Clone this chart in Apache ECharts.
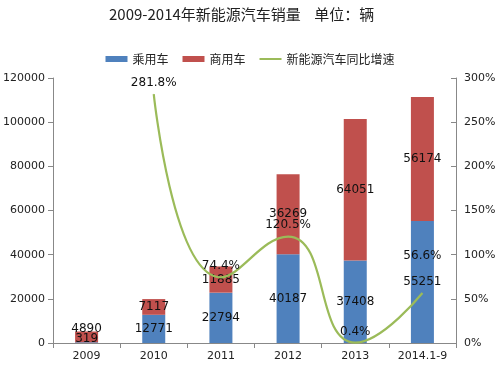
<!DOCTYPE html>
<html><head><meta charset="utf-8">
<script src="https://cdn.jsdelivr.net/npm/echarts@6/dist/echarts.min.js"></script>
<style>html,body{margin:0;padding:0;background:#fff}#c{width:500px;height:369px}</style>
</head><body><div id="c"></div>
<script>
const categories = ['2009','2010','2011','2012','2013','2014.1-9'];
const passenger = [319, 12771, 22794, 40187, 37408, 55251];
const commercial = [4890, 7117, 11885, 36269, 64051, 56174];
const growth = [null, 281.8, 74.4, 120.5, 0.4, 56.6];
const leftTicks = [0, 20000, 40000, 60000, 80000, 100000, 120000];
const rightTicks = [0, 50, 100, 150, 200, 250, 300];

const font = 'DejaVu Sans, Noto Sans CJK SC, sans-serif';
const cjk = 'Noto Sans CJK SC, sans-serif';
const labelStyle = {show:true, position:'inside', color:'#111', fontSize:12, fontFamily:font};

const pData = passenger.map((v,i)=> i===0 ? {value:v, label:{offset:[0,-4]}} : v);
const cData = commercial.map((v,i)=> i===0 ? {value:v, label:{position:'top', offset:[0,8]}} : v);
const gData = growth.map((v,i)=> i===5 ? {value:v, label:{offset:[0,-26]}} : v);

const chart = echarts.init(document.getElementById('c'));
chart.setOption({
  animation:false,
  backgroundColor:'#fff',
  title:{text:'2009-2014年新能源汽车销量    单位：辆', left:104, top:2,
    textStyle:{fontSize:15, fontWeight:'normal', color:'#222', fontFamily:cjk}},
  legend:{top:48, left:'center', itemWidth:22, itemHeight:6, itemGap:14,
    textStyle:{fontSize:12, color:'#222', fontFamily:cjk},
    data:[{name:'乘用车', icon:'rect'},{name:'商用车', icon:'rect'},
          {name:'新能源汽车同比增速', icon:'path://M0,0 L22,0 L22,2 L0,2 Z', itemStyle:{color:'#9BBB59', opacity:1}}]},
  grid:{left:53, right:44, top:78, bottom:26},
  xAxis:{type:'category', data:categories,
    axisLine:{lineStyle:{color:'#888'}},
    axisTick:{show:true, alignWithLabel:false, lineStyle:{color:'#888'}},
    axisLabel:{color:'#222', fontSize:11, fontFamily:font, margin:8}},
  yAxis:[
    {type:'value', min:0, max:120000, interval:20000,
     axisLine:{show:true, lineStyle:{color:'#888'}},
     axisTick:{show:true, lineStyle:{color:'#888'}},
     splitLine:{show:false},
     axisLabel:{color:'#222', fontSize:11, fontFamily:font,
       formatter:v=> leftTicks.includes(v) ? String(v) : ''}},
    {type:'value', min:0, max:300, interval:50,
     axisLine:{show:true, lineStyle:{color:'#888'}},
     axisTick:{show:true, inside:true, lineStyle:{color:'#888'}},
     splitLine:{show:false},
     axisLabel:{color:'#222', fontSize:11, fontFamily:font,
       formatter:v=> rightTicks.includes(v) ? v+'%' : ''}}
  ],
  series:[
    {name:'乘用车', type:'bar', stack:'s', barWidth:23, data:pData,
     itemStyle:{color:'#4F81BD'}, label:labelStyle},
    {name:'商用车', type:'bar', stack:'s', barWidth:23, data:cData,
     itemStyle:{color:'#C0504D'}, label:labelStyle},
    {name:'新能源汽车同比增速', type:'line', yAxisIndex:1, smooth:0.5, data:gData,
     symbol:'circle', symbolSize:0.5, showSymbol:true, connectNulls:false,
     lineStyle:{color:'#9BBB59', width:2.2}, itemStyle:{color:'#9BBB59'},
     label:{show:true, position:'top', distance:5, color:'#111', fontSize:12, fontFamily:font,
       formatter:p=> p.value==null ? '' : Number(p.value).toFixed(1)+'%'}}
  ]
});
</script></body></html>
